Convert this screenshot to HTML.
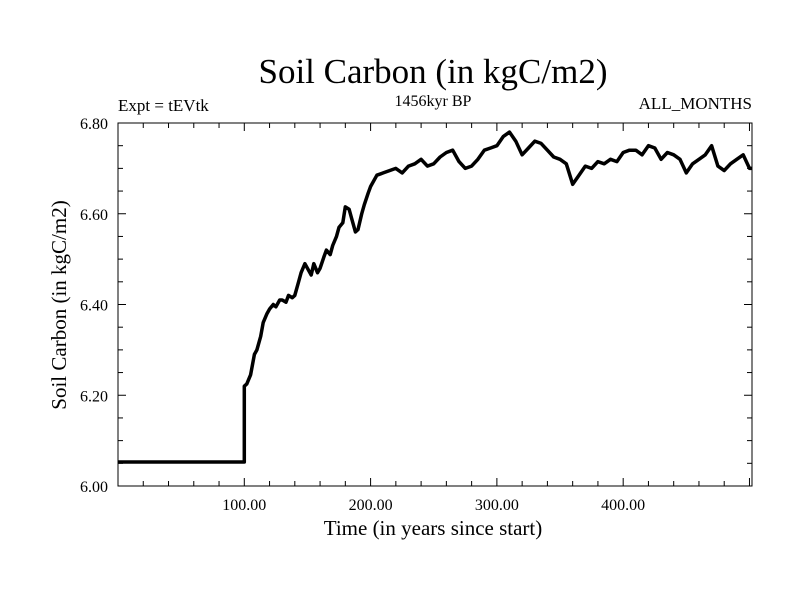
<!DOCTYPE html>
<html><head><meta charset="utf-8"><style>
body{margin:0;background:#fff}
svg text{font-family:"Liberation Serif",serif;fill:#000}
</style></head><body>
<svg id="chart" width="800" height="600" xmlns="http://www.w3.org/2000/svg">
<text x="433" y="83" font-size="35" text-anchor="middle">Soil Carbon (in kgC/m2)</text>
<text x="433" y="106" font-size="16" text-anchor="middle">1456kyr BP</text>
<text x="118" y="111" font-size="17">Expt = tEVtk</text>
<text x="752" y="109" font-size="17" text-anchor="end">ALL_MONTHS</text>
<text x="433" y="535" font-size="21" text-anchor="middle">Time (in years since start)</text>
<text transform="translate(66,305) rotate(-90)" font-size="21" text-anchor="middle">Soil Carbon (in kgC/m2)</text>
<g id="axes"></g>
<polyline id="series" fill="none" stroke="#000" stroke-width="3.5" stroke-linejoin="round"></polyline>
<rect x="118" y="123" width="634" height="363" fill="none" stroke="#000" stroke-width="1"/>
</svg>
<script>
const years=[0,100,100,102,105,108,110,113,115,118,120,123,125,128,130,133,135,138,140,143,145,148,150,153,155,158,160,163,165,168,170,173,175,178,180,183,185,188,190,193,195,198,200,205,210,215,220,225,230,235,240,245,250,255,260,265,270,275,280,285,290,295,300,305,310,315,320,325,330,335,340,345,350,355,360,365,370,375,380,385,390,395,400,405,410,415,420,425,430,435,440,445,450,455,460,465,470,475,480,485,490,495,500,502];
const values=[6.053,6.053,6.22,6.225,6.245,6.29,6.30,6.33,6.36,6.38,6.39,6.40,6.395,6.41,6.41,6.405,6.42,6.415,6.42,6.45,6.47,6.49,6.48,6.465,6.49,6.47,6.48,6.505,6.52,6.51,6.53,6.55,6.57,6.58,6.615,6.61,6.59,6.56,6.565,6.60,6.62,6.645,6.66,6.685,6.69,6.695,6.70,6.69,6.705,6.71,6.72,6.705,6.71,6.725,6.735,6.74,6.715,6.70,6.705,6.72,6.74,6.745,6.75,6.77,6.78,6.76,6.73,6.745,6.76,6.755,6.74,6.725,6.72,6.71,6.665,6.685,6.705,6.70,6.715,6.71,6.72,6.715,6.735,6.74,6.74,6.73,6.75,6.745,6.72,6.735,6.73,6.72,6.69,6.71,6.72,6.73,6.75,6.705,6.695,6.71,6.72,6.73,6.70,6.70];
const xTicks=[100,200,300,400];
const xTickLabels=["100.00","200.00","300.00","400.00"];
const yTicks=[6.0,6.2,6.4,6.6,6.8];
const yTickLabels=["6.00","6.20","6.40","6.60","6.80"];
const X0=118,X1=752,Y0=486,Y1=123,XMAX=502,YMIN=6.0,YMAX=6.8;
function sx(v){return X0+(v/XMAX)*(X1-X0);}
function sy(v){return Y0-(v-YMIN)/(YMAX-YMIN)*(Y0-Y1);}
const ns="http://www.w3.org/2000/svg";
const axes=document.getElementById('axes');
function line(x1,y1,x2,y2,name){const l=document.createElementNS(ns,'line');l.setAttribute('x1',x1);l.setAttribute('y1',y1);l.setAttribute('x2',x2);l.setAttribute('y2',y2);l.setAttribute('stroke','#000');l.setAttribute('stroke-width','1');


axes.appendChild(l);}
function text(x,y,s,anchor,name){const t=document.createElementNS(ns,'text');t.setAttribute('x',x);t.setAttribute('y',y);t.setAttribute('font-size','16');t.setAttribute('text-anchor',anchor);t.textContent=s;


axes.appendChild(t);}
for(let v=20;v<XMAX;v+=20){const x=sx(v),major=v%100===0,len=major?8:5;line(x,Y0,x,Y0-len,'x-tick');line(x,Y1,x,Y1+len,'x-tick-top');}
for(let v=6.05;v<6.8;v+=0.05){const y=sy(v),len=Math.abs((v*10)%2)<0.01||Math.abs((v*10)%2-2)<0.01?8:5;line(X0,y,X0+len,y,'y-tick');line(X1,y,X1-len,y,'y-tick-right');}
xTicks.forEach((v,i)=>text(sx(v),Y0+24,xTickLabels[i],'middle','x-tick-label'));
yTicks.forEach((v,i)=>text(X0-10,sy(v)+6,yTickLabels[i],'end','y-tick-label'));
document.getElementById('series').setAttribute('points',years.map((y,i)=>sx(y).toFixed(1)+','+sy(values[i]).toFixed(1)).join(' '));
</script>
</body></html>
